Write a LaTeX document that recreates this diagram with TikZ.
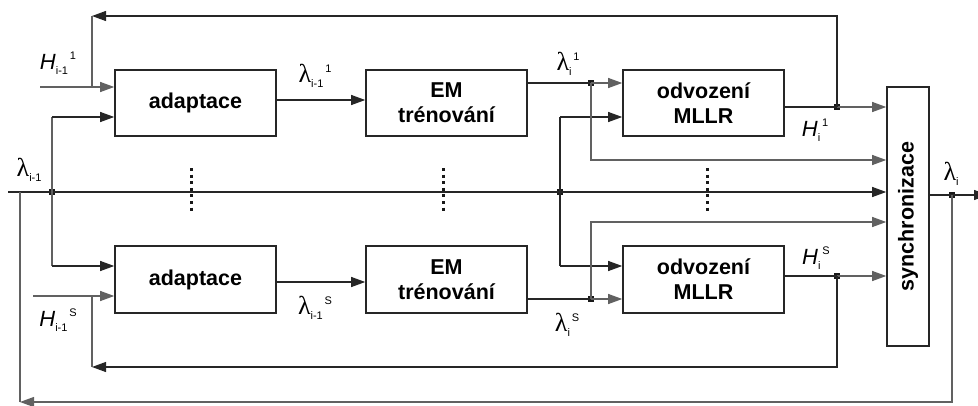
\documentclass[tikz,border=0pt]{standalone}
\usepackage{fontspec}
\setmainfont{Liberation Sans}
\newfontfamily\greekfont{Liberation Serif}
\usetikzlibrary{arrows.meta}
\tikzset{
  blk/.style={draw=black!85, line width=1.6pt, minimum width=161pt, minimum height=66pt,
    inner sep=0pt, font=\fontsize{21.5}{25}\selectfont\bfseries, align=center},
  conn/.style={draw=black!85, line width=1.1pt},
  conng/.style={draw=black!62, line width=1.1pt},
  tip/.style={-{Triangle[length=14pt,width=10pt]}},
  jn/.style={fill=black!90, inner sep=0pt, minimum size=5.5pt, draw=none},
  vdots/.style={line width=3pt, dash pattern=on 3pt off 3.6pt, black!90},
  lbl/.style={inner sep=0pt, font=\fontsize{22}{22}\selectfont},
}
% symbol with subscript and a following superscript
\newcommand\symb[3]{#1\raisebox{-5pt}{\fontsize{11}{11}\selectfont #2}\raisebox{10pt}{\fontsize{11}{11}\selectfont\,#3}}
\newcommand\lam{{\greekfont\fontsize{26}{26}\selectfont λ}}
\newcommand\hh{\textit{H}}
\begin{document}
\begin{tikzpicture}[x=1pt,y=-1pt]
\useasboundingbox (0,0) rectangle (978,405);

% processing blocks, upper branch
\node[blk] (ad1) at (195.5,103) {adaptace};
\node[blk] (em1) at (446.5,103) {EM\\trénování};
\node[blk] (ml1) at (703.5,103) {odvození\\MLLR};
% processing blocks, lower branch
\node[blk, minimum height=67pt] (ad2) at (195.5,279.5) {adaptace};
\node[blk, minimum height=67pt] (em2) at (446.5,279.5) {EM\\trénování};
\node[blk, minimum height=67pt] (ml2) at (703.5,279.5) {odvození\\MLLR};
% synchronisation block
\node[blk, minimum width=42pt, minimum height=259pt] (sync) at (908,216.5) {};
\node[font=\fontsize{21.5}{25}\selectfont\bfseries, rotate=90] at (sync.center) {synchronizace};

% junction points
\node[jn] (jmain) at (52,192) {};
\node[jn] (jmid) at (560,192) {};
\node[jn] (jem1) at (591,83) {};
\node[jn] (jem2) at (591,299) {};
\node[jn] (jh1) at (837,107) {};
\node[jn] (jh2) at (837,276) {};
\node[jn] (jout) at (952,195) {};

% free ends and corners
\coordinate (start) at (8,192);
\coordinate (hin1) at (40,87);
\coordinate (hin2) at (33,296);
\coordinate (fb1) at (92,16);
\coordinate (fb2) at (92,367);
\coordinate (fbL) at (20,402);
\coordinate (outend) at (988,195);

% main line and its branches
\draw[conn,tip] (start) -- (start -| sync.west);
\draw[conng] (jmain.center) -- (52,117);
\draw[conng] (jmain.center) -- (52,266);
\draw[conn,tip] (52,117) -- (ad1.west |- 0,117);
\draw[conn,tip] (52,266) -- (ad2.west |- 0,266);
\draw[conn] (jmid.center) -- (560,117);
\draw[conn] (jmid.center) -- (560,266);
\draw[conn,tip] (560,117) -- (ml1.west |- 0,117);
\draw[conn,tip] (560,266) -- (ml2.west |- 0,266);

% external inputs
\draw[conng,tip] (hin1) -- (hin1 -| ad1.west);
\draw[conng,tip] (hin2) -- (hin2 -| ad2.west);

% upper chain
\draw[conn,tip] (ad1.east |- 0,100) -- (em1.west |- 0,100);
\draw[conn] (em1.east |- jem1) -- (jem1.center);
\draw[conng,tip] (jem1.center) -- (jem1 -| ml1.west);
\draw[conng,tip] (jem1.center) -- (591,160) -- (sync.west |- 0,160);
\draw[conn] (ml1.east |- jh1) -- (jh1.center);
\draw[conng,tip] (jh1.center) -- (jh1 -| sync.west);

% lower chain
\draw[conn,tip] (ad2.east |- 0,282) -- (em2.west |- 0,282);
\draw[conn] (em2.east |- jem2) -- (jem2.center);
\draw[conng,tip] (jem2.center) -- (jem2 -| ml2.west);
\draw[conng,tip] (jem2.center) -- (591,222) -- (sync.west |- 0,222);
\draw[conn] (ml2.east |- jh2) -- (jh2.center);
\draw[conng,tip] (jh2.center) -- (jh2 -| sync.west);

% feedback loops
\draw[conn,tip] (jh1.center) -- (jh1 |- fb1) -- (fb1);
\draw[conng] (fb1) -- (fb1 |- hin1);
\draw[conn,tip] (jh2.center) -- (jh2 |- fb2) -- (fb2);
\draw[conng] (fb2) -- (fb2 |- hin2);

% output and global feedback
\draw[conn] (sync.east |- jout) -- (jout.center);
\draw[conn,tip] (jout.center) -- (outend);
\draw[conng,tip] (jout.center) -- (jout |- fbL) -- (fbL);
\draw[conng] (fbL) -- (fbL |- start);

% dotted continuation marks
\foreach \x in {191,443,707} \draw[vdots] (\x,168) -- (\x,213);

% labels
\node[lbl] at (58,63) {\symb{\hh}{i-1}{1}};
\node[lbl] at (30,170) {\symb{\lam}{i-1}{}};
\node[lbl] at (315,76) {\symb{\lam}{i-1}{1}};
\node[lbl] at (568,64) {\symb{\lam}{i}{1}};
\node[lbl] at (815,130) {\symb{\hh}{i}{1}};
\node[lbl] at (952,174) {\symb{\lam}{i}{}};
\node[lbl] at (58,320) {\symb{\hh}{i-1}{S}};
\node[lbl] at (315,308) {\symb{\lam}{i-1}{S}};
\node[lbl] at (567,325) {\symb{\lam}{i}{S}};
\node[lbl] at (816,258) {\symb{\hh}{i}{S}};
\end{tikzpicture}
\end{document}
